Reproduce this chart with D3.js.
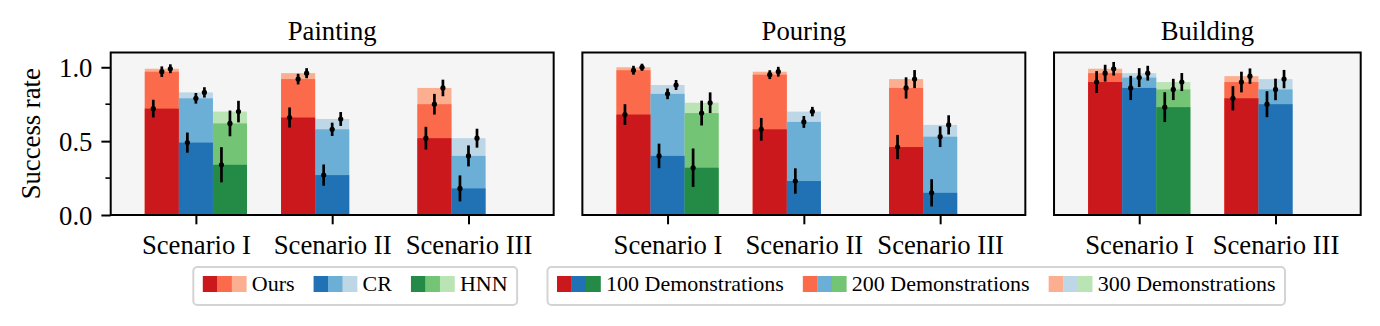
<!DOCTYPE html>
<html>
<head>
<meta charset="utf-8">
<script src="https://cdn.jsdelivr.net/npm/d3@7"></script>
<style>
  html, body { margin: 0; padding: 0; background: #fff; }
  svg { display: block; font-family: "Liberation Serif", "Times New Roman", serif; }
</style>
</head>
<body>
<svg id="chart" width="1380" height="326"></svg>
<script>
// ---- data ----
const tasks = ['Painting', 'Pouring', 'Building']
const paintingScenarios = ['Scenario I', 'Scenario II', 'Scenario III']
const pouringScenarios = ['Scenario I', 'Scenario II', 'Scenario III']
const buildingScenarios = ['Scenario I', 'Scenario III']
const methods = ['Ours', 'CR', 'HNN']
const demoLabels = ['100 Demonstrations', '200 Demonstrations', '300 Demonstrations']
const yTicks = [0, 0.5, 1.0]
const yMinorTicks = [0.25, 0.75]

// mean success rate: one row per scenario, columns = 100 / 200 / 300 demos
const paintingOurs = [[0.72, 0.97, 0.99], [0.66, 0.92, 0.96], [0.52, 0.75, 0.86]]
const paintingCR = [[0.49, 0.79, 0.83], [0.27, 0.58, 0.65], [0.18, 0.40, 0.52]]
const paintingHNN = [[0.34, 0.62, 0.70], null, null]
const pouringOurs = [[0.68, 0.98, 1.00], [0.58, 0.95, 0.97], [0.46, 0.86, 0.92]]
const pouringCR = [[0.40, 0.82, 0.88], [0.23, 0.63, 0.70], [0.15, 0.53, 0.61]]
const pouringHNN = [[0.32, 0.69, 0.76], null, null]
const buildingOurs = [[0.90, 0.96, 0.99], [0.79, 0.90, 0.94]]
const buildingCR = [[0.86, 0.93, 0.96], [0.75, 0.85, 0.92]]
const buildingHNN = [[0.73, 0.85, 0.90], null]

// half length of the error bars, same layout
const paintingOursErr = [[0.06, 0.036, 0.03], [0.068, 0.036, 0.034], [0.077, 0.07, 0.056]]
const paintingCRErr = [[0.068, 0.036, 0.035], [0.072, 0.045, 0.047], [0.088, 0.071, 0.064]]
const paintingHNNErr = [[0.119, 0.087, 0.073], null, null]
const pouringOursErr = [[0.07, 0.03, 0.024], [0.077, 0.03, 0.033], [0.082, 0.072, 0.061]]
const pouringCRErr = [[0.083, 0.036, 0.034], [0.086, 0.04, 0.032], [0.092, 0.07, 0.065]]
const pouringHNNErr = [[0.13, 0.084, 0.07], null, null]
const buildingOursErr = [[0.074, 0.057, 0.046], [0.082, 0.07, 0.052]]
const buildingCRErr = [[0.082, 0.064, 0.05], [0.088, 0.073, 0.062]]
const buildingHNNErr = [[0.101, 0.072, 0.061], null]

// ---- styles ----
const palette = {
  Ours: ['#cb181d', '#fb6a4a', '#fcae91'],
  CR: ['#2171b5', '#6baed6', '#bdd7e7'],
  HNN: ['#238b45', '#74c476', '#bae4b3']
}
const styles = {
  fontSize: 26.7,
  legendFontSize: 22,
  axesFill: '#f5f5f5',
  frameWidth: 2,
  tickSize: 9.3,
  minorTickSize: 5.3,
  errWidth: 2.7,
  dotRadius: 2.6,
  barWidth: 0.25
}

const panels = [
  { title: tasks[0], scenarios: paintingScenarios,
    mean: [paintingOurs, paintingCR, paintingHNN], err: [paintingOursErr, paintingCRErr, paintingHNNErr] },
  { title: tasks[1], scenarios: pouringScenarios,
    mean: [pouringOurs, pouringCR, pouringHNN], err: [pouringOursErr, pouringCRErr, pouringHNNErr] },
  { title: tasks[2], scenarios: buildingScenarios,
    mean: [buildingOurs, buildingCR, buildingHNN], err: [buildingOursErr, buildingCRErr, buildingHNNErr] }
]

const svg = d3.select('#chart')

// figure layout
const plotLeft = 110.7
const plotRight = 1360.7
const plotTop = 52.5
const plotBottom = 215
const gap = 28.7
const spans = panels.map(p => p.scenarios.length + 0.25)
const unit = (plotRight - plotLeft - gap * (panels.length - 1)) / d3.sum(spans)

const y = d3.scaleLinear().domain([0, 1.1]).range([plotBottom, plotTop])

/**
 * draw one task panel
 */
function drawPanel(selection, opt) {
  const n = opt.panel.scenarios.length
  const x = d3.scaleLinear()
    .domain([-0.625, n - 0.375])
    .range([opt.left, opt.left + (n + 0.25) * unit])
  const g = selection.append('g')
  const clipId = 'clip-' + opt.index

  g.append('clipPath').attr('id', clipId)
    .append('rect')
    .attr('x', x.range()[0]).attr('y', plotTop)
    .attr('width', x.range()[1] - x.range()[0]).attr('height', plotBottom - plotTop)

  g.append('rect')
    .attr('x', x.range()[0]).attr('y', plotTop)
    .attr('width', x.range()[1] - x.range()[0]).attr('height', plotBottom - plotTop)
    .attr('fill', styles.axesFill)

  // flatten into bars
  const bars = []
  opt.panel.scenarios.forEach((s, si) => {
    methods.forEach((m, mi) => {
      const vals = opt.panel.mean[mi][si]
      if (!vals) return
      const errs = opt.panel.err[mi][si]
      const x0 = si + (mi - 1) * styles.barWidth - styles.barWidth / 2
      vals.forEach((v, k) => {
        bars.push({ method: m, shade: k, x0, value: v, err: errs[k] })
      })
    })
  })

  const barG = g.append('g').attr('clip-path', `url(#${clipId})`)
  // light (300) bars first so the darker ones sit on top
  barG.selectAll('rect')
    .data(bars.slice().sort((a, b) => b.shade - a.shade))
    .join('rect')
    .attr('x', d => x(d.x0))
    .attr('width', x(styles.barWidth) - x(0))
    .attr('y', d => y(d.value))
    .attr('height', d => y(0) - y(d.value))
    .attr('fill', d => palette[d.method][d.shade])

  const errG = g.append('g')
  const errX = d => x(d.x0 + styles.barWidth * (d.shade + 1) / 4)
  errG.selectAll('line')
    .data(bars)
    .join('line')
    .attr('x1', errX).attr('x2', errX)
    .attr('y1', d => y(d.value - d.err))
    .attr('y2', d => y(d.value + d.err))
    .attr('stroke', '#000')
    .attr('stroke-width', styles.errWidth)
  errG.selectAll('circle')
    .data(bars)
    .join('circle')
    .attr('cx', errX)
    .attr('cy', d => y(d.value))
    .attr('r', styles.dotRadius)
    .attr('fill', '#000')

  // frame
  g.append('rect')
    .attr('x', x.range()[0]).attr('y', plotTop)
    .attr('width', x.range()[1] - x.range()[0]).attr('height', plotBottom - plotTop)
    .attr('fill', 'none')
    .attr('stroke', '#000')
    .attr('stroke-width', styles.frameWidth)

  // x axis
  const xAxis = g.append('g')
    .attr('transform', `translate(0,${plotBottom})`)
    .call(d3.axisBottom(x)
      .tickValues(d3.range(n))
      .tickFormat(i => opt.panel.scenarios[i])
      .tickSize(styles.tickSize))
    .attr('font-family', null)
    .attr('font-size', styles.fontSize)
  xAxis.select('.domain').remove()
  xAxis.selectAll('line').attr('stroke-width', 2)
  xAxis.selectAll('text')
    .attr('dy', null)
    .attr('y', 39)
    .attr('fill', '#000')

  // y axis only on the first panel
  if (opt.index === 0) {
    const yAxis = g.append('g')
      .attr('transform', `translate(${x.range()[0]},0)`)
      .call(d3.axisLeft(y)
        .tickValues(yTicks)
        .tickFormat(d3.format('.1f'))
        .tickSize(styles.tickSize)
        .tickPadding(9))
      .attr('font-family', null)
      .attr('font-size', styles.fontSize)
    yAxis.select('.domain').remove()
    yAxis.selectAll('line').attr('stroke-width', 2)
    yAxis.selectAll('text')
      .attr('fill', '#000')
      .attr('dy', '0.34em')

    g.append('g').selectAll('line')
      .data(yMinorTicks)
      .join('line')
      .attr('x1', x.range()[0] - styles.minorTickSize).attr('x2', x.range()[0])
      .attr('y1', d => y(d)).attr('y2', d => y(d))
      .attr('stroke', '#000')
      .attr('stroke-width', 1.6)

    g.append('text')
      .attr('transform', `translate(40,${(plotTop + plotBottom) / 2}) rotate(-90)`)
      .attr('text-anchor', 'middle')
      .attr('font-size', styles.fontSize)
      .text('Success rate')
  }

  // title
  g.append('text')
    .attr('x', (x.range()[0] + x.range()[1]) / 2)
    .attr('y', 39.5)
    .attr('text-anchor', 'middle')
    .attr('font-size', styles.fontSize)
    .text(opt.panel.title)
}

let left = plotLeft
panels.forEach((panel, index) => {
  svg.call(drawPanel, { panel, index, left })
  left += spans[index] * unit + gap
})

/**
 * legend box: every entry shows three colour swatches and a label
 */
function drawLegend(selection, opt) {
  const g = selection.append('g')
  const box = g.append('rect')
  const swatch = 14.5
  const swH = 16
  const pad = 9.5
  const midY = opt.top + 17
  let cx = opt.left + pad
  opt.entries.forEach((e, i) => {
    e.colors.forEach((c, k) => {
      g.append('rect')
        .attr('x', cx + k * swatch).attr('y', midY - swH / 2)
        .attr('width', swatch + 0.3).attr('height', swH)
        .attr('fill', c)
    })
    cx += swatch * 3 + 5.5
    const t = g.append('text')
      .attr('x', cx).attr('y', midY + 7.3)
      .attr('font-size', styles.legendFontSize)
      .text(e.label)
    cx += t.node().getComputedTextLength()
    if (i < opt.entries.length - 1) cx += 19
  })
  box.attr('x', opt.left).attr('y', opt.top)
    .attr('width', cx + pad - opt.left).attr('height', 38)
    .attr('rx', 4)
    .attr('fill', '#fff')
    .attr('stroke', '#d4d4d4')
    .attr('stroke-width', 2)
}

svg.call(drawLegend, {
  left: 193.3, top: 267,
  entries: methods.map(m => ({ label: m, colors: palette[m] }))
})
svg.call(drawLegend, {
  left: 547.5, top: 267,
  entries: demoLabels.map((label, k) => ({ label, colors: methods.map(m => palette[m][k]) }))
})
</script>
</body>
</html>
